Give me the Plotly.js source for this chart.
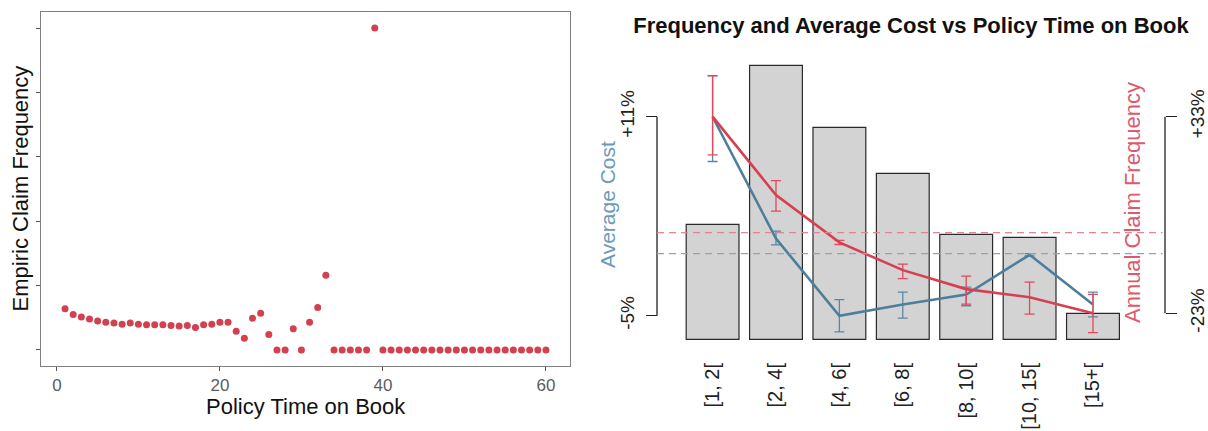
<!DOCTYPE html>
<html><head><meta charset="utf-8">
<script src="https://cdn.plot.ly/plotly-3.0.1.min.js"></script>
<style>html,body{margin:0;padding:0;background:#fff}#chart{width:1208px;height:431px}</style>
</head><body><div id="chart"></div>
<script>
// ---- Left panel data ----
const policyYears = [1,2,3,4,5,6,7,8,9,10,11,12,13,14,15,16,17,18,19,20,21,22,23,24,25,26,27,28,29,30,
  31,32,33,34,35,36,37,38,39,40,41,42,43,44,45,46,47,48,49,50,51,52,53,54,55,56,57,58,59,60];
const empiricFreq = [0.64,0.55,0.51,0.48,0.45,0.43,0.42,0.40,0.42,0.40,0.39,0.39,0.39,0.38,0.37,0.38,0.35,0.39,0.40,0.43,
  0.43,0.29,0.18,0.49,0.57,0.24,0,0,0.33,0,0.43,0.66,1.16,0,0,0,0,0,5.0,0,
  0,0,0,0,0,0,0,0,0,0,0,0,0,0,0,0,0,0,0,0];
const leftXTicks = [0,20,40,60];
const leftYTicks = [0,1,2,3,4,5];

// ---- Right panel data ----
const tenureBands = ['[1, 2[','[2, 4[','[4, 6[','[6, 8[','[8, 10[','[10, 15[','[15+['];
const exposure = [115, 274, 212, 166, 105, 102, 26];
const costRel = [11, 1.2, -5, -4.1, -3.3, -0.1, -4.1];
const costErrPlus = [3.3, 0.6, 1.3, 1.0, 0.6, 0.1, 1.0];
const costErrMinus = [3.6, 0.5, 1.3, 1.1, 0.9, 0.1, 1.0];
const freqRel = [33, 10.7, -2.8, -10.7, -16.1, -18.4, -23];
const freqErrPlus = [11.6, 4.1, 0.6, 1.7, 3.7, 4.3, 5.4];
const freqErrMinus = [10.9, 4.6, 0.6, 2.4, 4.3, 4.8, 5.5];

const RED = '#d6404f', BLUE = '#4d7e9c';
const FONT = 'Liberation Sans, Arial, Helvetica, sans-serif';
const pct = v => (v > 0 ? '+' : '') + Math.round(v) + '%';
const minMax = a => [Math.min(...a), Math.max(...a)];
const costMM = minMax(costRel), freqMM = minMax(freqRel);

const traces = [
  {type:'scatter', mode:'markers', x: policyYears, y: empiricFreq, xaxis:'x', yaxis:'y',
   marker:{size:7, color:'#d3404f'}, hoverinfo:'x+y'},
  {type:'bar', x: tenureBands, y: exposure, xaxis:'x2', yaxis:'y2',
   marker:{color:'#d3d3d3', line:{color:'#2a2a2a', width:1.2}}},
  {type:'scatter', mode:'lines', x: tenureBands, y: costRel, xaxis:'x2', yaxis:'y3',
   line:{color:BLUE, width:2.6},
   error_y:{type:'data', symmetric:false, array:costErrPlus, arrayminus:costErrMinus,
            color:'#5a87a6', thickness:1.3, width:5}},
  {type:'scatter', mode:'lines', x: tenureBands, y: freqRel, xaxis:'x2', yaxis:'y4',
   line:{color:RED, width:2.6},
   error_y:{type:'data', symmetric:false, array:freqErrPlus, arrayminus:freqErrMinus,
            color:'#e04a5c', thickness:1.3, width:5}}
];

const bracketAxis = (mm, side, pos, range) => ({
  overlaying:'y2', anchor:'free', position:pos, side:side, range:range,
  tickmode:'array', tickvals:mm, ticktext:mm.map(pct), ticks:'outside', ticklen:11,
  tickwidth:1.3, tickcolor:'#222', tickangle:-90, ticklabelstandoff:4,
  tickfont:{family:FONT, size:19, color:'#222'},
  showline:false, showgrid:false, zeroline:false, fixedrange:true
});

const layout = {
  width:1208, height:431, margin:{l:0,r:0,t:0,b:0}, showlegend:false,
  paper_bgcolor:'#fff', plot_bgcolor:'rgba(0,0,0,0)', bargap:0.1667,
  font:{family:FONT},
  title:{text:'Frequency and Average Cost vs Policy Time on Book', x:0.7541, xanchor:'center',
         y:0.942, yanchor:'middle', xref:'paper', yref:'paper',
         font:{family:FONT, size:22, weight:'bold', color:'#111'}},
  xaxis:{domain:[0.03394,0.47185], anchor:'y', range:[-1.95,62.95], tickmode:'array', tickvals:leftXTicks,
         ticks:'outside', ticklen:4, tickcolor:'#555', showline:true, mirror:true, linecolor:'#808080',
         linewidth:1, showgrid:false, zeroline:false, tickfont:{family:FONT, size:17, color:'#5c5c5c'}},
  yaxis:{domain:[0.15081,0.97216], anchor:'x', range:[-0.25,5.25], tickmode:'array', tickvals:leftYTicks,
         showticklabels:false, ticks:'outside', ticklen:4, tickcolor:'#555', showline:true, mirror:true,
         linecolor:'#808080', linewidth:1, showgrid:false, zeroline:false},
  xaxis2:{domain:[0.54387,0.96440], anchor:'y2', type:'category', range:[-0.877,7.136],
          tickangle:-90, ticks:'', showline:false, showgrid:false, zeroline:false,
          tickfont:{family:FONT, size:20, color:'#222'}},
  yaxis2:{domain:[0.16937,0.90719], anchor:'x2', range:[-18.7,299.3], visible:false},
  yaxis3: bracketAxis(costMM, 'left', 0.54387, [-8.40,17.17]),
  yaxis4: bracketAxis(freqMM, 'right', 0.96440, [-35.72,54.84]),
  shapes:[
    {type:'line', xref:'paper', yref:'y3', x0:0.54387, x1:0.54387, y0:costMM[0], y1:costMM[1],
     line:{color:'#222', width:1.3}},
    {type:'line', xref:'paper', yref:'y4', x0:0.96440, x1:0.96440, y0:freqMM[0], y1:freqMM[1],
     line:{color:'#222', width:1.3}},
    {type:'line', xref:'x2 domain', yref:'y4', x0:0, x1:0.995, y0:0, y1:0,
     line:{color:'#e08592', width:1.3, dash:'7px,5px'}},
    {type:'line', xref:'x2 domain', yref:'y3', x0:0, x1:0.995, y0:0, y1:0,
     line:{color:'#8ea3b9', width:1.3, dash:'7px,5px'}}
  ],
  annotations:[
    {text:'Empiric Claim Frequency', xref:'paper', yref:'paper', x:0.01656, y:0.5629, textangle:-90,
     xanchor:'center', yanchor:'middle', showarrow:false, font:{family:FONT, size:22, color:'#111'}},
    {text:'Policy Time on Book', xref:'paper', yref:'paper', x:0.2533, y:0.0557,
     xanchor:'center', yanchor:'middle', showarrow:false, font:{family:FONT, size:22, color:'#111'}},
    {text:'Average Cost', xref:'paper', yref:'paper', x:0.5033, y:0.5267, textangle:-90,
     xanchor:'center', yanchor:'middle', showarrow:false, font:{family:FONT, size:21, color:'#6d9abb'}},
    {text:'Annual Claim Frequency', xref:'paper', yref:'paper', x:0.9371, y:0.529, textangle:-90,
     xanchor:'center', yanchor:'middle', showarrow:false, font:{family:FONT, size:22, color:'#dc5a6c'}}
  ]
};

Plotly.newPlot('chart', traces, layout, {displayModeBar:false, staticPlot:true});
</script></body></html>
